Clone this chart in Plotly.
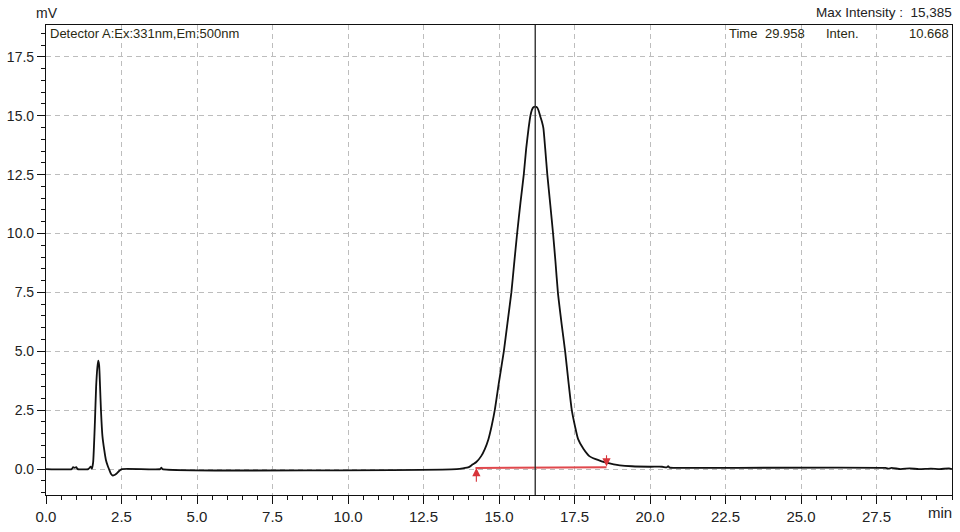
import plotly.graph_objects as go

# ---- data ----
time_min = [0.0, 0.85, 0.9, 0.95, 1.0, 1.05, 1.4, 1.48, 1.52, 1.56, 1.62, 1.66, 1.70, 1.73, 1.76,
            1.79, 1.82, 1.87, 1.93, 1.98, 2.04, 2.09, 2.15, 2.20, 2.27, 2.33, 2.42, 2.51, 3.78,
            3.82, 3.86, 13.6, 13.8, 14.0, 14.13, 14.25, 14.41, 14.53, 14.65, 14.76, 14.86, 15.0,
            15.16, 15.28, 15.41, 15.5, 15.6, 15.71, 15.82, 15.9, 15.98, 16.04, 16.09, 16.14, 16.2,
            16.26, 16.31, 16.36, 16.42, 16.47, 16.53, 16.6, 16.7, 16.79, 16.87, 16.95, 17.07,
            17.19, 17.3, 17.41, 17.52, 17.62, 17.8, 17.99, 18.2, 18.4, 18.55, 18.8, 19.0, 19.4,
            20.0, 20.4, 20.55, 20.6, 20.65, 20.8, 27.8, 27.9, 28.0, 28.3, 28.6, 28.9, 29.3, 29.6,
            29.9, 30.0]
intensity_mv = [0.0, 0.0, 0.08, 0.05, 0.08, 0.0, 0.0, 0.1, 0.02, 0.27, 2.0, 3.5, 4.3, 4.6, 4.4,
                3.5, 2.5, 1.39, 0.8, 0.41, 0.15, -0.01, -0.2, -0.27, -0.25, -0.2, -0.08, 0.0, 0.0,
                0.06, 0.0, 0.0, 0.03, 0.08, 0.2, 0.3, 0.55, 0.85, 1.27, 1.85, 2.5, 3.7,
                5.0, 6.2, 7.5, 8.7, 10.0, 11.3, 12.5, 13.6, 14.47, 15.0, 15.25, 15.36, 15.385,
                15.35, 15.22, 15.0, 14.75, 14.47, 13.6, 12.5, 11.2, 10.0, 8.8, 7.5, 6.2,
                5.0, 3.7, 2.5, 1.8, 1.27, 0.85, 0.55, 0.42, 0.33, 0.27, 0.2, 0.16, 0.12,
                0.1, 0.1, 0.07, 0.12, 0.06, 0.05, 0.05, 0.02, 0.05, 0.0, 0.03, 0.0, 0.02, 0.0,
                0.03, 0.0]

baseline_t = [14.22, 18.56]
baseline_v = [0.05, 0.08]
cursor_time = 16.2

x_ticks = [0.0, 2.5, 5.0, 7.5, 10.0, 12.5, 15.0, 17.5, 20.0, 22.5, 25.0, 27.5]
x_ticklabels = ["0.0", "2.5", "5.0", "7.5", "10.0", "12.5", "15.0", "17.5", "20.0", "22.5", "25.0", "27.5"]
y_ticks = [0.0, 2.5, 5.0, 7.5, 10.0, 12.5, 15.0, 17.5]
y_ticklabels = ["0.0", "2.5", "5.0", "7.5", "10.0", "12.5", "15.0", "17.5"]

FONT = "Liberation Sans, Arial, sans-serif"
TXT = "#2a2a12"

fig = go.Figure()

fig.add_trace(go.Scatter(x=time_min, y=intensity_mv, mode="lines",
                         line=dict(color="#111111", width=1.8, shape="spline", smoothing=0.5),
                         hoverinfo="skip"))

fig.add_trace(go.Scatter(x=baseline_t, y=baseline_v, mode="lines",
                         line=dict(color="#e0484c", width=2), hoverinfo="skip"))

# peak start / end markers
fig.add_annotation(x=baseline_t[0] + 0.03, y=baseline_v[0], ax=baseline_t[0] + 0.03, ay=-0.6,
                   xref="x", yref="y", axref="x", ayref="y", showarrow=True,
                   arrowhead=2, arrowsize=1.5, arrowwidth=1.1, arrowcolor="#d8343a", text="")
fig.add_annotation(x=baseline_t[1], y=baseline_v[1] + 0.03, ax=baseline_t[1], ay=0.65,
                   xref="x", yref="y", axref="x", ayref="y", showarrow=True,
                   arrowhead=2, arrowsize=1.5, arrowwidth=1.1, arrowcolor="#d8343a", text="")

# cursor line
fig.add_vline(x=cursor_time, line=dict(color="#333333", width=1.4))

fig.update_layout(
    width=960, height=532,
    margin=dict(l=45, r=7, t=25, b=33),
    paper_bgcolor="white", plot_bgcolor="white",
    showlegend=False,
    font=dict(family=FONT, size=15, color="#222222"),
)

fig.update_xaxes(
    range=[0, 30], tickmode="array", tickvals=x_ticks, ticktext=x_ticklabels,
    ticks="outside", ticklen=8, tickwidth=1, tickcolor="#111111",
    showline=True, linecolor="#111111", linewidth=1.2, mirror=True,
    showgrid=True, gridcolor="#bdbdbd", gridwidth=1, griddash="5px,4px",
    zeroline=False,
    minor=dict(tickmode="linear", tick0=0, dtick=0.5, ticks="outside", ticklen=4,
               tickcolor="#111111", showgrid=False),
    tickfont=dict(family=FONT, size=15, color="#222222"),
)
fig.update_yaxes(
    range=[-1.1, 18.85], tickmode="array", tickvals=y_ticks, ticktext=y_ticklabels,
    ticks="outside", ticklen=8, tickwidth=1, tickcolor="#111111",
    showline=True, linecolor="#111111", linewidth=1.2, mirror=True,
    showgrid=True, gridcolor="#bdbdbd", gridwidth=1, griddash="5px,4px",
    zeroline=False,
    minor=dict(tickmode="linear", tick0=0, dtick=0.5, ticks="outside", ticklen=4,
               tickcolor="#111111", showgrid=False),
    tickfont=dict(family=FONT, size=14, color="#222222"),
)

def pa(px):
    return (px - 45) / 908.0

def pb(py):
    return (499 - py) / 474.0

ann = [
    ("mV", pa(46), pb(13), "center", "#222222", 14),
    ("Max Intensity :  15,385", pa(955), pb(12), "right", "#222222", 13.5),
    ("Detector A:Ex:331nm,Em:500nm", pa(47), pb(34), "left", TXT, 13),
    ("Time", pa(728), pb(34), "left", TXT, 13),
    ("29.958", pa(808), pb(34), "right", TXT, 13),
    ("Inten.", pa(825), pb(34), "left", TXT, 13),
    ("10.668", pa(952), pb(34), "right", TXT, 13),
    ("min", pa(955), pb(517), "right", "#222222", 15),
]
for text, x, y, xa, col, sz in ann:
    fig.add_annotation(text=text, x=x, y=y, xref="paper", yref="paper",
                       xanchor=xa, yanchor="middle", showarrow=False,
                       font=dict(family=FONT, size=sz, color=col))

fig.write_html("out.html")
